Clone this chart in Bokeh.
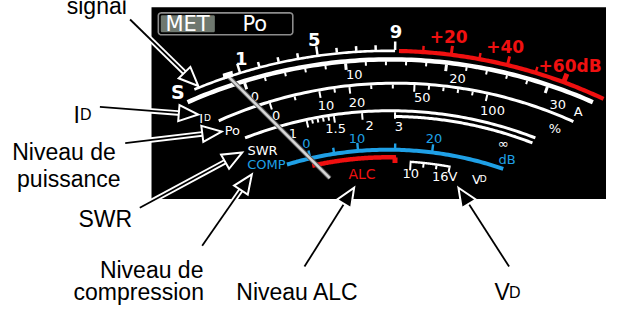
import numpy as np
from bokeh.plotting import figure
from bokeh.models import Range1d
from bokeh.core.properties import value
from bokeh.embed import file_html
from bokeh.resources import INLINE

# ---------------- data (scale values and labels) ----------------
S_UNITS = [1, 2, 3, 4, 5, 6, 7, 8, 9]
S_MAJOR = [1, 5, 9]
S_LABELS = ["1", "5", "9"]
DB_OVER = [10, 20, 30, 40, 50, 60]
DB_MAJOR = [20, 40, 60]
DB_LABELS = ["+20", "+40", "+60dB"]
ID_VALUES = list(range(0, 31, 2))
ID_MAJOR = [0, 10, 20, 30]
ID_LABELS = ["0", "10", "20", "30", "A"]
PO_VALUES = [0, 5, 10, 15, 20, 30, 40, 50, 60, 70, 80, 90, 100]
PO_MAJOR = [0, 10, 20, 50, 100]
PO_LABELS = ["0", "10", "20", "50", "100", "%"]
SWR_VALUES = [1, 1.1, 1.2, 1.3, 1.4, 1.5, 2, 3]
SWR_MAJOR = [1, 1.5, 2, 3]
SWR_LABELS = ["1", "1.5", "2", "3", "\u221e"]
COMP_VALUES = [0, 5, 10, 15, 20]
COMP_MAJOR = [0, 10, 20]
COMP_LABELS = ["0", "10", "20", "dB"]
VD_VALUES = [10, 12, 14, 16]
VD_LABELS = ["10", "16V"]
SIDE_LABELS = ["S", "I", "Po", "SWR", "COMP"]
CALLOUTS = ["signal", "Niveau de", "puissance", "SWR", "Niveau de",
            "compression", "Niveau ALC"]

# ---------------- layout (reference pixel space, y down) ----------------
W, H = 622, 322
C_S, R_S = (398, 561), 508
C_ID, R_ID = (400, 565), 503
C_PO, R_PO = (405, 521), 434
C_SWR, R_SWR = (400, 518), 402
C_BL, R_BL = (398, 512), 355
R_ALC, R_VD = 347, 343

WHITE, RED, BLUE, GREY = "#ffffff", "#f01010", "#1fa0e6", "#8c8c8c"
METF = "DejaVu Sans"
ANF = "Liberation Sans"


def s_x(v):
    return np.interp(v, [1, 9], [246, 405])


def db_x(v):
    return np.interp(v, [0, 60], [405, 578])


def id_x(v):
    return 250 + 10.4 * np.asarray(v, dtype=float)


def po_x(v):
    return np.interp(v, [0, 10, 20, 50, 100], [276, 327, 358, 425, 500])


def swr_x(v):
    return np.interp(v, [1, 1.5, 2, 3], [314, 342, 371, 405])


def comp_x(v):
    return np.interp(v, [0, 10, 20], [318, 367, 443])


def vd_x(v):
    return np.interp(v, [10, 16], [421, 461])


def arc_pts(c, R, x0, x1, n=90):
    cx, cy = c
    f = np.linspace(np.arcsin((x0 - cx) / R), np.arcsin((x1 - cx) / R), n)
    return list(cx + R * np.sin(f)), list(cy - R * np.cos(f))


def tick_segs(c, R, xs, lens, sign, off):
    cx, cy = c
    X, Y = [], []
    for x, L in zip(xs, lens):
        f = np.arcsin((x - cx) / R)
        ux, uy = np.sin(f), -np.cos(f)
        px, py = cx + R * ux, cy + R * uy
        a, b = off * sign, (off + L) * sign
        X.append([px + a * ux, px + b * ux])
        Y.append([py + a * uy, py + b * uy])
    return X, Y


p = figure(width=606, height=306, output_backend="svg", toolbar_location=None,
           x_range=Range1d(0, W), y_range=Range1d(H, 0), min_border=0)
p.axis.visible = False
p.grid.visible = False
p.outline_line_color = None
p.background_fill_color = "white"
p.border_fill_color = "white"

# black meter panel
p.quad(left=[155], right=[622], top=[7], bottom=[209], fill_color="black", line_color=None)


# MET / Po box
def rrect(x0, y0, x1, y1, r, n=8):
    xs, ys = [], []
    corners = [(x1 - r, y0 + r, -np.pi / 2, 0), (x1 - r, y1 - r, 0, np.pi / 2),
               (x0 + r, y1 - r, np.pi / 2, np.pi), (x0 + r, y0 + r, np.pi, 1.5 * np.pi)]
    for cx, cy, a0, a1 in corners:
        t = np.linspace(a0, a1, n)
        xs += list(cx + r * np.cos(t))
        ys += list(cy + r * np.sin(t))
    return xs, ys


bx, by = rrect(162, 13, 300, 36, 3)
p.patch(bx, by, fill_color="black", line_color=GREY, line_width=1.6)
mx, my = rrect(164.5, 15.5, 220, 33.5, 1.5)
p.patch(mx, my, fill_color="#6f786f", line_color=None)
p.text(x=[192, 261], y=[25, 25], text=["MET", "Po"], text_color="white",
       text_font=value(METF), text_font_size="21px", text_align="center",
       text_baseline="middle")

# ---- S meter ----
ax, ay = arc_pts(C_S, R_S, 199, 405)
p.line(ax, ay, line_color=WHITE, line_width=2.6)
ax, ay = arc_pts(C_S, R_S, 409, 619)
p.line(ax, ay, line_color=RED, line_width=4.2)
X, Y = tick_segs(C_S, R_S, s_x(S_UNITS), [9 if u in S_MAJOR else 5 for u in S_UNITS], 1, 1)
p.multi_line(X, Y, line_color=WHITE, line_width=2.5)
X, Y = tick_segs(C_S, R_S, db_x(DB_OVER), [8 if d in DB_MAJOR else 5 for d in DB_OVER], 1, 1.5)
p.multi_line(X, Y, line_color=RED,
             line_width=[5 if d == 60 else (3 if d in DB_MAJOR else 2.4) for d in DB_OVER])
p.text(x=[247, 322, 406], y=[61, 41, 33], text=S_LABELS, text_color=WHITE,
       text_font=value(METF), text_font_size="18px", text_font_style="bold",
       text_align="center", text_baseline="middle")
p.text(x=[460, 518], y=[38, 48], text=DB_LABELS[:2], text_color=RED,
       text_font=value(METF), text_font_size="17px", text_font_style="bold",
       text_align="center", text_baseline="middle")
p.text(x=[617], y=[69], text=DB_LABELS[2:], text_color=RED,
       text_font=value(METF), text_font_size="17px", text_font_style="bold",
       text_align="right", text_baseline="middle")

# ---- Id ----
ax, ay = arc_pts(C_ID, R_ID, 192, 608)
p.line(ax, ay, line_color=WHITE, line_width=4.5)
X, Y = tick_segs(C_ID, R_ID, id_x(ID_VALUES), [7 if v in ID_MAJOR else 4 for v in ID_VALUES], -1, 2)
p.multi_line(X, Y, line_color=WHITE, line_width=[3 if v in ID_MAJOR else 2 for v in ID_VALUES])
p.text(x=[261, 363, 469, 572, 593], y=[101, 78, 82, 109, 117], text=ID_LABELS,
       text_color=WHITE, text_font=value(METF), text_font_size="13px",
       text_align="center", text_baseline="middle")

# ---- Po ----
ax, ay = arc_pts(C_PO, R_PO, 224, 588)
p.line(ax, ay, line_color=WHITE, line_width=3)
X, Y = tick_segs(C_PO, R_PO, po_x(PO_VALUES), [7 if v in PO_MAJOR else 4 for v in PO_VALUES], -1, 1.5)
p.multi_line(X, Y, line_color=WHITE, line_width=2)
p.text(x=[283, 334, 366, 433, 505, 569], y=[121, 111, 107, 102, 116, 135], text=PO_LABELS,
       text_color=WHITE, text_font=value(METF), text_font_size="13px",
       text_align="center", text_baseline="middle")

# ---- SWR ----
ax, ay = arc_pts(C_SWR, R_SWR, 251, 549)
p.line(ax, ay, line_color=WHITE, line_width=3)
ax, ay = arc_pts(C_SWR, R_SWR - 6, 405, 546)
p.line(ax, ay, line_color=WHITE, line_width=3)
X, Y = tick_segs(C_SWR, R_SWR, swr_x(SWR_VALUES), [7 if v in SWR_MAJOR else 4 for v in SWR_VALUES], -1, 1.5)
p.multi_line(X, Y, line_color=WHITE, line_width=2)
p.text(x=[300, 344, 379, 409, 516], y=[140, 135, 132, 133, 151], text=SWR_LABELS,
       text_color=WHITE, text_font=value(METF), text_font_size="13px",
       text_align="center", text_baseline="middle")

# ---- COMP (blue) ----
ax, ay = arc_pts(C_BL, R_BL, 294, 516)
p.line(ax, ay, line_color=BLUE, line_width=4)
X, Y = tick_segs(C_BL, R_BL, comp_x(COMP_VALUES), [7 if v in COMP_MAJOR else 5 for v in COMP_VALUES], 1, 1.5)
p.multi_line(X, Y, line_color=BLUE, line_width=2.4)
p.text(x=[314, 366, 445, 520], y=[151, 145, 145, 167], text=COMP_LABELS,
       text_color=BLUE, text_font=value(METF), text_font_size="13px",
       text_align="center", text_baseline="middle")

# ---- ALC ----
ax, ay = arc_pts(C_BL, R_ALC, 320, 406)
p.line(ax, ay, line_color=RED, line_width=4.5)
X, Y = tick_segs(C_BL, R_ALC, [405], [6], -1, 0)
p.multi_line(X, Y, line_color=RED, line_width=5)
p.text(x=[371], y=[183], text=["ALC"], text_color=RED, text_font=value(METF),
       text_font_size="14px", text_align="center", text_baseline="middle")

# ---- Vd ----
ax, ay = arc_pts(C_BL, R_VD, 420, 462)
p.line(ax, ay, line_color=WHITE, line_width=2.4)
X, Y = tick_segs(C_BL, R_VD, vd_x(VD_VALUES), [8, 4, 4, 5], -1, 1)
p.multi_line(X, Y, line_color=WHITE, line_width=2)
p.text(x=[421, 456], y=[182, 185], text=VD_LABELS, text_color=WHITE,
       text_font=value(METF), text_font_size="13px", text_align="center",
       text_baseline="middle")
p.text(x=[484, 492], y=[188, 188], text=["V", "D"], text_color=WHITE,
       text_font=value(METF), text_font_size=["13px", "9px"], text_align="left",
       text_baseline="alphabetic")

# ---- side labels ----
p.text(x=[182], y=[96], text=["S"], text_color=WHITE, text_font=value(METF),
       text_font_size="19px", text_font_style="bold", text_align="center",
       text_baseline="middle")
p.text(x=[204, 209], y=[124, 124], text=["I", "D"], text_color=WHITE,
       text_font=value(METF), text_font_size=["13px", "9px"], text_align="left",
       text_baseline="alphabetic")
p.text(x=[238, 269], y=[137, 158], text=["Po", "SWR"], text_color=WHITE,
       text_font=value(METF), text_font_size="13px", text_align="center",
       text_baseline="middle")
p.text(x=[273], y=[173], text=["COMP"], text_color=BLUE, text_font=value(METF),
       text_font_size="13px", text_align="center", text_baseline="middle")

# ---- needle ----
p.line([232, 338], [78, 187], line_color="#5a5a5a", line_width=4.5)
p.line([232, 338], [78, 187], line_color="#d6d6d6", line_width=2.5)
p.patch([228, 238, 239, 229], [77, 74, 80, 83], fill_color=WHITE, line_color=None)

# ---- callout arrows ----
ARROWS = [((133, 20), (203, 90)), ((102, 112), (203, 120)), ((128, 150), (227, 138)),
          ((143, 218), (248, 160)), ((207, 258), (258, 183)), ((312, 280), (363, 197)),
          ((522, 280), (470, 197))]
shx, shy, hx, hy = [], [], [], []
for (x0, y0), (x1, y1) in ARROWS:
    d = np.array([x1 - x0, y1 - y0], float)
    L = np.hypot(*d)
    u = d / L
    n = np.array([-u[1], u[0]])
    base = np.array([x1, y1]) - 20 * u
    shx.append([x0, base[0] + 2 * u[0]])
    shy.append([y0, base[1] + 2 * u[1]])
    hx.append([x1, base[0] + 8.5 * n[0], base[0] - 8.5 * n[0]])
    hy.append([y1, base[1] + 8.5 * n[1], base[1] - 8.5 * n[1]])
p.multi_line(shx, shy, line_color="white", line_width=5.5)
p.multi_line(shx, shy, line_color="black", line_width=1.8)
p.patches(hx, hy, fill_color="black", line_color="white", line_width=2, line_join="miter")

# ---- callout texts ----
p.text(x=[68, 12, 17, 80, 102, 75, 242],
       y=[6, 159, 188, 230, 284, 307, 307],
       text=CALLOUTS, text_color="black", text_font=value(ANF),
       text_font_size="23px", text_align="left", text_baseline="alphabetic")
p.text(x=[75, 81.5, 507, 522], y=[120, 120, 307, 307], text=["I", "D", "V", "D"],
       text_color="black", text_font=value(ANF),
       text_font_size=["23px", "16px", "23px", "16px"], text_align="left",
       text_baseline="alphabetic")

open("out.html", "w").write(file_html(p, INLINE))
